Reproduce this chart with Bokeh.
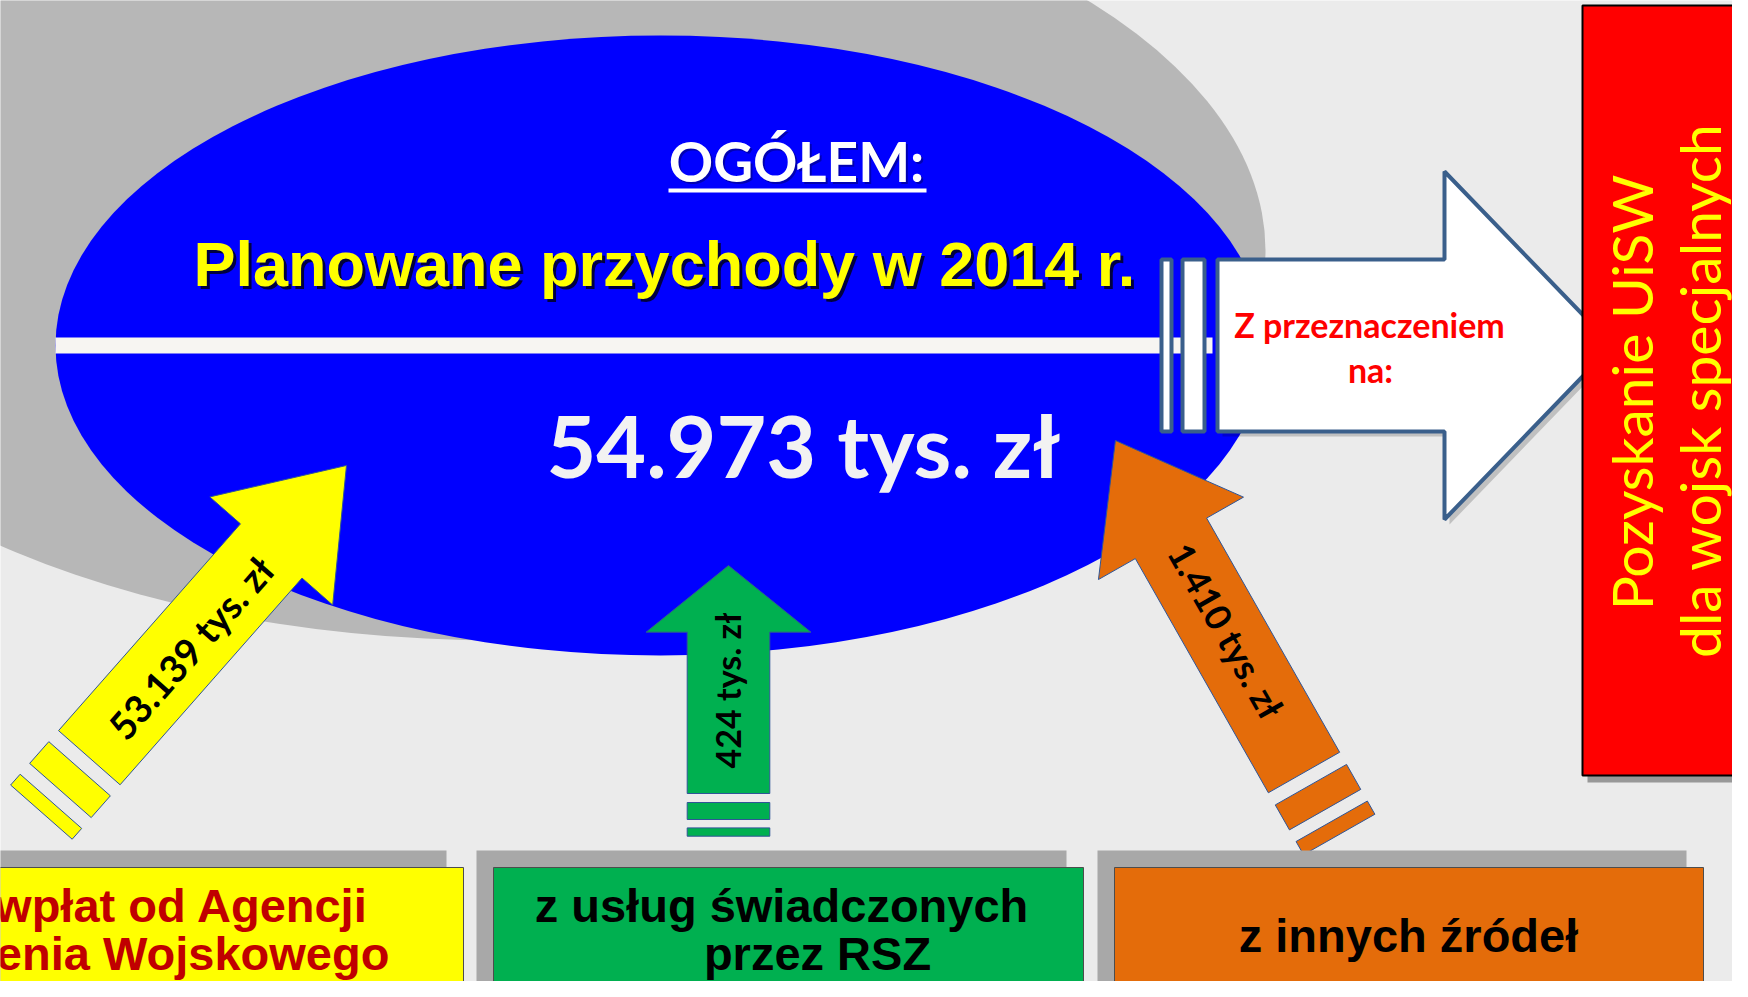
import math
from bokeh.plotting import figure
from bokeh.models import Range1d
from bokeh.core.properties import value
from bokeh.embed import file_html
from bokeh.resources import INLINE

# ---------------- data ----------------
heading = "OGÓŁEM:"
title = "Planowane przychody w 2014 r."
total_value = 54973
unit = "tys. zł"
source_values = [53139, 424, 1410]
source_lines = [["z wpłat od Agencji", "Mienia Wojskowego"],
                ["z usług świadczonych", "przez RSZ"],
                ["z innych źródeł"]]
source_colors = ["#FFFF00", "#00B050", "#E46C0A"]
source_text_colors = ["#C00000", "#000000", "#000000"]
purpose_lines = ["Z przeznaczeniem", "na:"]
target_lines = ["Pozyskanie UiSW", "dla wojsk specjalnych"]


def fmt(v):
    return f"{v:,}".replace(",", ".") + " " + unit


# ---------------- layout helpers ----------------
PW, PH = 1732, 981          # figure size in px; 1 data unit = 1 px
BL = 0.36                   # baseline correction (fraction of font size)


def Y(y):
    return PH - y


def arrow(bx, by, ang, L, w, hl, hw):
    a = math.radians(ang)
    ux, uy = math.cos(a), -math.sin(a)
    px, py = math.sin(a), math.cos(a)
    pts = [(0, -w / 2), (L, -w / 2), (L, -hw / 2), (L + hl, 0), (L, hw / 2), (L, w / 2), (0, w / 2)]
    xs = [bx + t * ux + s * px for t, s in pts]
    ys = [Y(by + t * uy + s * py) for t, s in pts]
    return xs, ys


def bar(bx, by, ang, t0, t1, w):
    a = math.radians(ang)
    ux, uy = math.cos(a), -math.sin(a)
    px, py = math.sin(a), math.cos(a)
    pts = [(t0, -w / 2), (t1, -w / 2), (t1, w / 2), (t0, w / 2)]
    xs = [bx + t * ux + s * px for t, s in pts]
    ys = [Y(by + t * uy + s * py) for t, s in pts]
    return xs, ys


def label(x, base_y, txt, font, size, color, align="center", bold=True, alpha=1.0):
    p.text(x=[x], y=[Y(base_y - BL * size)], text=[txt], text_font=value(font),
           text_font_style="bold" if bold else "normal", text_font_size=f"{size}px",
           text_color=color, text_alpha=alpha, text_align=align, text_baseline="alphabetic")


p = figure(width=PW, height=PH, x_range=Range1d(0, PW), y_range=Range1d(0, PH),
           output_backend="svg", toolbar_location=None, min_border=0)
p.axis.visible = False
p.grid.visible = False
p.outline_line_color = None
p.background_fill_color = "#ebebeb"
p.border_fill_color = "#ebebeb"

# shadow ellipse and main ellipse
p.ellipse(x=[500], y=[Y(250)], width=[1530], height=[780], fill_color="#b7b7b7", line_color=None)
p.ellipse(x=[660], y=[Y(345)], width=[1210], height=[620], fill_color="#0000FF", line_color=None)
p.quad(left=[55], right=[1212], top=[Y(337)], bottom=[Y(353)], fill_color="#f7f5f2", line_color=None)

# heading texts
label(798, 182, heading, "Lato", 55, "#000066", alpha=0.5)
label(796, 180, heading, "Lato", 55, "#FFFFFF")
p.quad(left=[668], right=[926], top=[Y(188)], bottom=[Y(192)], fill_color="#FFFFFF", line_color=None)

label(196, 289, title, "Liberation Sans", 63, "#000000", align="left", alpha=0.75)
label(193, 286, title, "Liberation Sans", 63, "#FFFF00", align="left")

label(803, 475, fmt(total_value), "Lato", 86, "#F2F2F2")

# white outgoing arrow (with bars)
wx, wy = arrow(1217, 345, 0, 227, 172, 168, 348)
p.patch([x + 5 for x in wx], [y - 5 for y in wy], fill_color="#000000", fill_alpha=0.18, line_color=None)
for t0, t1 in [(-35, -13), (-56, -46)]:
    bx_, by_ = bar(1217, 345, 0, t0, t1, 172)
    p.patch(bx_, by_, fill_color="#FFFFFF", line_color="#3A5F8B", line_width=4)
p.patch(wx, wy, fill_color="#FFFFFF", line_color="#3A5F8B", line_width=4)
label(1369, 336, purpose_lines[0], "Lato", 34, "#FF0000")
label(1370, 381, purpose_lines[1], "Lato", 34, "#FF0000")

# red target box
p.quad(left=[1587], right=[1780], top=[Y(11)], bottom=[Y(782)], fill_color="#333333", fill_alpha=0.45, line_color=None)
p.quad(left=[1582], right=[1770], top=[Y(5)], bottom=[Y(775)], fill_color="#FF0000", line_color="#000000", line_width=2)
tsz = 57
p.text(x=[1651 - BL * tsz, 1719 - BL * tsz], y=[Y(392), Y(390)], text=target_lines, angle=math.pi / 2,
       text_font=value("Lato"), text_font_size=f"{tsz}px", text_color="#FFFF00", text_align="center",
       text_baseline="alphabetic")

# incoming arrows
arrow_specs = [
    # base x, base y, angle, shaft len, shaft w, head len, head w, bars (gap1, b1, gap2, b2), label centre, label angle, font
    (88.8, 757.2, 48.65, 275.4, 82, 113.9, 163.7, (14.7, 29, 14.4, 14.4), (190, 647), 48.65, "38px"),
    (728, 793, 90, 161.3, 82.6, 66.7, 165, (9, 17, 8.4, 8.3), (727, 690), 90, "34px"),
    (1303.5, 772, 119.6, 269.3, 82, 112.5, 166.8, (14, 28.7, 13.4, 15.2), (1226, 630), -60.4, "36px"),
]
for (bx0, by0, ang, L, w, hl, hw, bars, (lx, ly), lang, fs), val, col in zip(arrow_specs, source_values, source_colors):
    g1, b1, g2, b2 = bars
    for t0, t1 in [(-g1 - b1, -g1), (-g1 - b1 - g2 - b2, -g1 - b1 - g2)]:
        xs, ys = bar(bx0, by0, ang, t0, t1, w)
        p.patch(xs, ys, fill_color=col, line_color="#2F5597", line_width=1)
    xs, ys = arrow(bx0, by0, ang, L, w, hl, hw)
    p.patch(xs, ys, fill_color=col, line_color="#2F5597", line_width=1)
    p.text(x=[lx], y=[Y(ly)], text=[fmt(val)], angle=math.radians(lang), text_font=value("Lato"),
           text_font_style="bold", text_font_size=fs, text_color="#000000", text_align="center",
           text_baseline="middle")

# source boxes
box_specs = [
    (-40, 463, [(163, 922), (166, 970)]),
    (493, 1083, [(781, 922), (817, 970)]),
    (1114, 1703, [(1408, 952)]),
]
for (l, r, pos), lines, col, tcol in zip(box_specs, source_lines, source_colors, source_text_colors):
    p.quad(left=[l - 17], right=[r - 17], top=[Y(850)], bottom=[Y(1010)], fill_color="#a8a8a8", line_color=None)
    p.quad(left=[l], right=[r], top=[Y(867)], bottom=[Y(1010)], fill_color=col, line_color="#4d4d4d", line_width=1)
    for (tx, ty), line in zip(pos, lines):
        label(tx, ty, line, "Liberation Sans", 47, tcol)

open("out.html", "w").write(file_html(p, INLINE))
